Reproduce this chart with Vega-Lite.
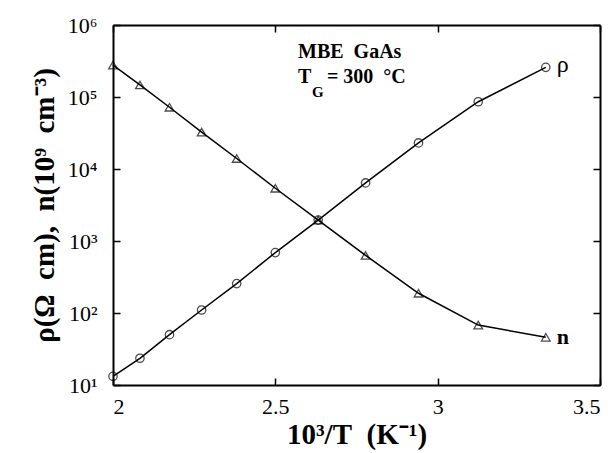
{
  "$schema": "https://vega.github.io/schema/vega-lite/v6.json",
  "width": 487,
  "height": 360,
  "autosize": {"type": "none"},
  "padding": {"left": 113, "top": 25, "right": 14, "bottom": 68},
  "background": "white",
  "config": {
    "font": "Liberation Serif",
    "view": {"stroke": null},
    "axis": {
      "grid": false,
      "domainColor": "black",
      "domainWidth": 2,
      "tickColor": "black",
      "tickWidth": 1.5,
      "tickSize": -7,
      "labelColor": "black",
      "labelFont": "Liberation Serif",
      "labelFontSize": 22,
      "titleColor": "black",
      "titleFont": "Liberation Serif",
      "titleFontSize": 29,
      "titleFontWeight": "bold"
    }
  },
  "datasets": {
    "pts": [
      {"x": 2.000, "value": 13.2, "series": "rho"},
      {"x": 2.083, "value": 23.5, "series": "rho"},
      {"x": 2.174, "value": 50, "series": "rho"},
      {"x": 2.273, "value": 110, "series": "rho"},
      {"x": 2.381, "value": 256, "series": "rho"},
      {"x": 2.500, "value": 690, "series": "rho"},
      {"x": 2.632, "value": 1950, "series": "rho"},
      {"x": 2.778, "value": 6400, "series": "rho"},
      {"x": 2.941, "value": 23000, "series": "rho"},
      {"x": 3.125, "value": 86000, "series": "rho"},
      {"x": 3.333, "value": 258000, "series": "rho"},
      {"x": 2.000, "value": 278000, "series": "n"},
      {"x": 2.083, "value": 147000, "series": "n"},
      {"x": 2.174, "value": 72000, "series": "n"},
      {"x": 2.273, "value": 32500, "series": "n"},
      {"x": 2.381, "value": 14000, "series": "n"},
      {"x": 2.500, "value": 5400, "series": "n"},
      {"x": 2.632, "value": 1950, "series": "n"},
      {"x": 2.778, "value": 630, "series": "n"},
      {"x": 2.941, "value": 188, "series": "n"},
      {"x": 3.125, "value": 68, "series": "n"},
      {"x": 3.333, "value": 46, "series": "n"}
    ],
    "rholabel": [{"x": 3.367, "value": 258000, "label": "ρ"}],
    "nlabel": [{"x": 3.367, "value": 46, "label": "n"}],
    "ann1": [
      {"x": 2.570, "value": 348000, "label": "MBE\u00a0\u00a0GaAs"},
      {"x": 2.570, "value": 156000, "label": "T"}
    ],
    "ann2": [{"x": 2.613, "value": 100000, "label": "G"}],
    "ann3": [{"x": 2.659, "value": 156000, "label": "=\u00a0300\u00a0\u00a0°C"}]
  },
  "layer": [
    {
      "data": {"name": "pts"},
      "mark": {"type": "line", "color": "black", "strokeWidth": 1.5},
      "encoding": {
        "x": {
          "field": "x", "type": "quantitative",
          "scale": {"domain": [2, 3.5], "nice": false, "zero": false},
          "axis": {"orient": "bottom", "values": [2, 2.5, 3, 3.5], "format": "~g", "labelPadding": 18, "title": "10³/T\u00a0\u00a0(K⁻¹)", "titlePadding": 3}
        },
        "y": {
          "field": "value", "type": "quantitative",
          "scale": {"type": "log", "domain": [10, 1000000], "nice": false},
          "axis": {
            "orient": "left",
            "values": [10, 100, 1000, 10000, 100000, 1000000],
            "labelExpr": "'10' + ['⁰','¹','²','³','⁴','⁵','⁶'][round(log(datum.value)/LN10)]",
            "labelPadding": 23,
            "title": "ρ(Ω\u00a0\u00a0cm),\u00a0\u00a0n(10⁹\u00a0\u00a0cm⁻³)",
            "titlePadding": 8
          }
        },
        "detail": {"field": "series"}
      }
    },
    {
      "data": {"name": "pts"},
      "transform": [{"filter": "datum.series === 'rho'"}],
      "mark": {"type": "point", "shape": "circle", "filled": false, "stroke": "black", "strokeWidth": 1.3, "size": 70},
      "encoding": {
        "x": {"field": "x", "type": "quantitative", "axis": {"orient": "top", "values": [2, 2.5, 3, 3.5], "labels": false, "title": null}},
        "y": {"field": "value", "type": "quantitative", "axis": {"orient": "right", "values": [10, 100, 1000, 10000, 100000, 1000000], "labels": false, "title": null}}
      }
    },
    {
      "data": {"name": "pts"},
      "transform": [{"filter": "datum.series === 'n'"}],
      "mark": {"type": "point", "shape": "triangle-up", "filled": false, "stroke": "black", "strokeWidth": 1.3, "size": 75},
      "encoding": {
        "x": {"field": "x", "type": "quantitative", "axis": null},
        "y": {"field": "value", "type": "quantitative", "axis": null}
      }
    },
    {
      "data": {"name": "rholabel"},
      "mark": {"type": "text", "align": "left", "baseline": "middle", "fontSize": 24, "color": "black", "dy": -2},
      "encoding": {
        "x": {"field": "x", "type": "quantitative", "axis": null},
        "y": {"field": "value", "type": "quantitative", "axis": null},
        "text": {"field": "label"}
      }
    },
    {
      "data": {"name": "nlabel"},
      "mark": {"type": "text", "align": "left", "baseline": "middle", "fontSize": 22, "fontWeight": "bold", "color": "black"},
      "encoding": {
        "x": {"field": "x", "type": "quantitative", "axis": null},
        "y": {"field": "value", "type": "quantitative", "axis": null},
        "text": {"field": "label"}
      }
    },
    {
      "data": {"name": "ann1"},
      "mark": {"type": "text", "align": "left", "baseline": "alphabetic", "fontSize": 20, "fontWeight": "bold", "color": "black"},
      "encoding": {
        "x": {"field": "x", "type": "quantitative", "axis": null},
        "y": {"field": "value", "type": "quantitative", "axis": null},
        "text": {"field": "label"}
      }
    },
    {
      "data": {"name": "ann2"},
      "mark": {"type": "text", "align": "left", "baseline": "alphabetic", "fontSize": 15, "fontWeight": "bold", "color": "black"},
      "encoding": {
        "x": {"field": "x", "type": "quantitative", "axis": null},
        "y": {"field": "value", "type": "quantitative", "axis": null},
        "text": {"field": "label"}
      }
    },
    {
      "data": {"name": "ann3"},
      "mark": {"type": "text", "align": "left", "baseline": "alphabetic", "fontSize": 20, "fontWeight": "bold", "color": "black"},
      "encoding": {
        "x": {"field": "x", "type": "quantitative", "axis": null},
        "y": {"field": "value", "type": "quantitative", "axis": null},
        "text": {"field": "label"}
      }
    }
  ],
  "resolve": {"axis": {"x": "independent", "y": "independent"}}
}
